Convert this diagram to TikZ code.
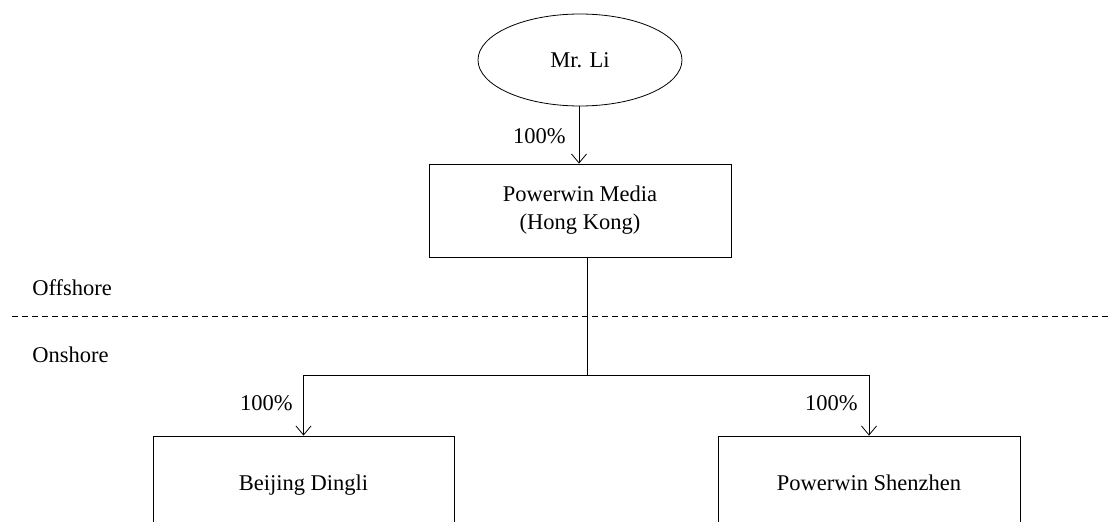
\documentclass[tikz,border=0pt]{standalone}
\usepackage{fontspec}
\setmainfont{Liberation Serif}
\usetikzlibrary{arrows.meta,shapes.geometric}
\begin{document}
\begin{tikzpicture}[x=1pt,y=-1pt, line width=0.8pt,
  every node/.style={font=\fontsize{22.5}{28}\selectfont},
  box/.style={draw, rectangle, inner sep=0pt, align=center},
  entity/.style={box, text height=15pt, text depth=5pt},
  oval/.style={draw, ellipse, inner sep=0pt, minimum width=204pt, minimum height=92pt},
  lbl/.style={anchor=east, inner sep=0pt},
  region/.style={anchor=west, inner sep=0pt},
  arr/.style={-{Straight Barb[length=9pt,width=15pt,line width=0.8pt]}},
  divider/.style={dash pattern=on 6pt off 4pt}]
\useasboundingbox (0,0) rectangle (1109,522);
\clip (0,0) rectangle (1109,522);

\node[oval] (li) at (580,60) {Mr. Li};
\node[box, minimum width=302pt, minimum height=93pt] (hk) at (580,210.5) {Powerwin Media\\(Hong Kong)};
\node[entity, minimum width=301pt, minimum height=98pt] (bj) at (303.5,485) {Beijing Dingli};
\node[entity, minimum width=302pt, minimum height=98pt] (sz) at (869,485) {Powerwin Shenzhen};

\coordinate (j) at (587,375);
\coordinate (dl) at (12,316);
\coordinate (dr) at (1109,316);

\draw[arr] (li.south -| 579,0) -- (hk.north -| 579,0);
\draw (hk.south -| j) -- (j);
\draw[arr] (j) -| (bj.north);
\draw[arr] (j) -| (sz.north);
\draw[divider] (dl) -- (dr);

\node[lbl] (p1) at (566,136) {100\%};
\node[lbl] (p2) at (293,403) {100\%};
\node[lbl] (p3) at (858,403) {100\%};
\node[region] (off) at (32,288) {Offshore};
\node[region] (on) at (32,355) {Onshore};
\end{tikzpicture}
\end{document}
